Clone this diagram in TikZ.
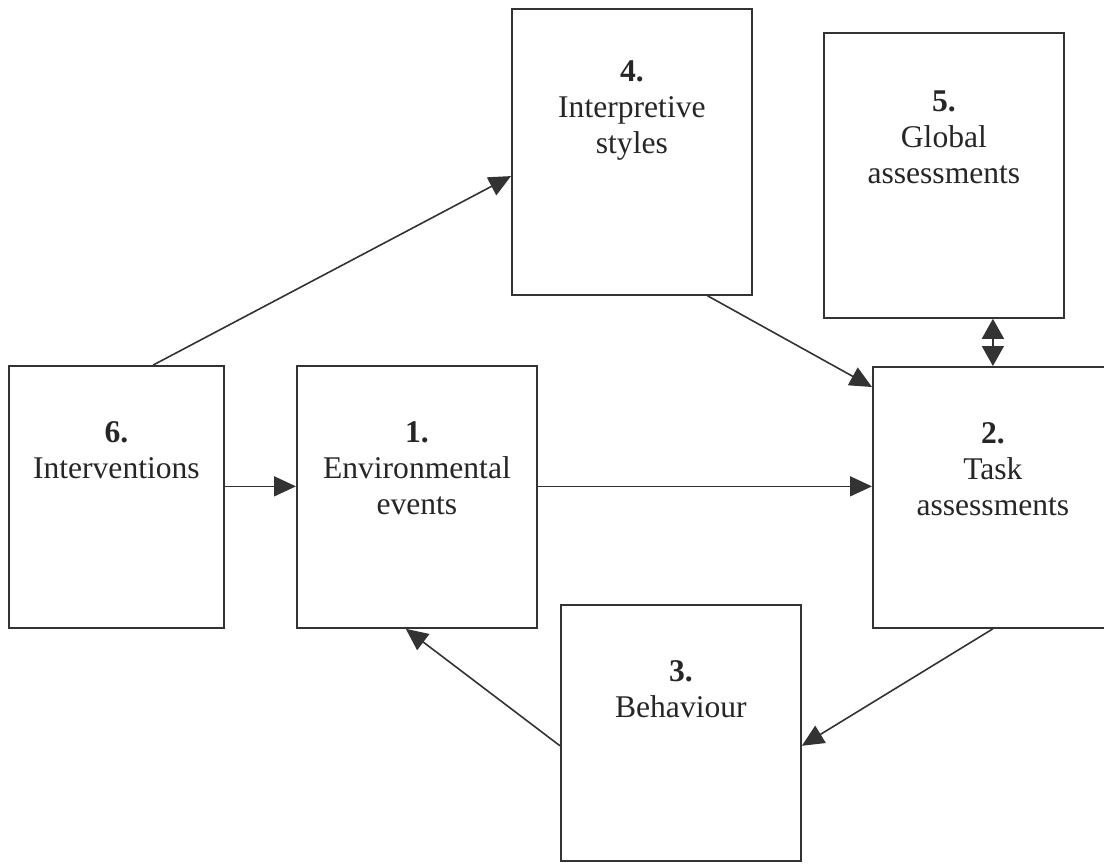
\documentclass[tikz,border=0pt]{standalone}
\usepackage{fontspec}
\setmainfont{Liberation Serif}
\usetikzlibrary{positioning,calc,arrows.meta}
\begin{document}
\begin{tikzpicture}[x=.5pt,y=-.5pt,
	stage/.style={draw=black!80,line width=.9pt,anchor=north west,inner sep=0,minimum width=120pt},
	caption/.style={align=center,inner sep=0,text=black!85,font=\fontsize{15.8}{18}\selectfont},
	link/.style={draw=black!80,line width=.8pt,-{Triangle[length=11pt,width=10pt]}}]
	\useasboundingbox(0,0)rectangle(1104,863);
	\node[stage,minimum width=107.5pt,minimum height=131pt](b6)at(8,365){};
	\node[stage,minimum height=131pt](b1)at(296,365){};
	\node[stage,minimum height=143pt](b4)at(511,8){};
	\node[stage,minimum height=142.5pt](b5)at(823,32){};
	\node[stage,minimum height=130.5pt](b2)at(872,366){};
	\node[stage,minimum height=128pt](b3)at(560,604){};
	\node[caption,below=28pt of b6.north](t6){\textbf{6.}\\Interventions};
	\node[caption,below=28pt of b1.north](t1){\textbf{1.}\\Environmental\\events};
	\node[caption,below=26pt of b4.north](t4){\textbf{4.}\\Interpretive\\styles};
	\node[caption,below=29pt of b5.north](t5){\textbf{5.}\\Global\\assessments};
	\node[caption,below=28pt of b2.north](t2){\textbf{2.}\\Task\\assessments};
	\node[caption,below=28pt of b3.north](t3){\textbf{3.}\\Behaviour};
	% arrows between the stages
	\draw[link]($(b6.north west)!.67!(b6.north east)$)--($(b4.north west)!.584!(b4.south west)$);
	\draw[link]($(b4.south west)!.813!(b4.south east)$)--($(b2.north west)!.08!(b2.south west)$);
	\draw[link,{Triangle[length=10pt,width=11pt]}-{Triangle[length=10pt,width=11pt]}](b5.south-|b2.north)--(b2.north);
	\draw[link]($(b6.north east)!.46!(b6.south east)$)coordinate(p6)--(p6-|b1.west);
	\draw[link](p6-|b1.east)--(p6-|b2.west);
	\draw[link](b2.south)--($(b3.north east)!.55!(b3.south east)$);
	\draw[link]($(b3.north west)!.55!(b3.south west)$)--($(b1.south west)!.454!(b1.south east)$);
\end{tikzpicture}
\end{document}
